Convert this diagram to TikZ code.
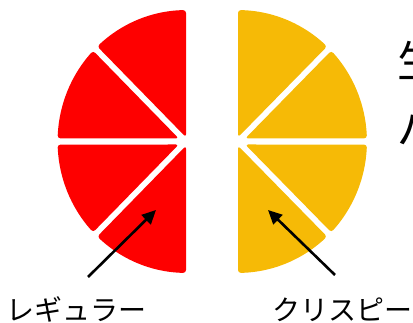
\documentclass[tikz,border=0pt]{standalone}
\usepackage{fontspec}
\newfontfamily\jp{Noto Sans CJK JP}
\usetikzlibrary{arrows.meta}
\definecolor{pizzared}{HTML}{FE0000}
\definecolor{pizzaorange}{HTML}{F6BA06}
\tikzset{
  slice/.style={rounded corners=3pt},
  pointer/.style={line width=2.6pt,-{Triangle[length=14pt,width=13pt]}},
  label/.style={font=\jp\fontsize{28}{30}\selectfont,anchor=base west,inner sep=0pt},
  title/.style={font=\jp\fontsize{44}{50}\selectfont,anchor=base west,inner sep=0pt}
}
\begin{document}
\begin{tikzpicture}[x=1pt,y=1pt]
\useasboundingbox (0,0) rectangle (413,323);
\clip (0,0) rectangle (413,323);
% left (red) half: centre (186,181.5)
\foreach \a/\b/\px/\py in {90/133.68/0/4.24, 136.32/178.66/-7.24/3, 181.34/223.68/-7.24/-3, 226.32/270/0/-4.24}{
  \fill[pizzared,slice] ({186+\px},{181.5+\py}) -- plot[domain=\a:\b,samples=12] ({186+128.5*cos(\x)},{181.5+131.5*sin(\x)}) -- cycle;
}
% right (orange) half: centre (238,181.5)
\foreach \a/\b/\px/\py in {90/46.32/0/4.24, 43.68/1.34/7.24/3, -1.34/-43.68/7.24/-3, -46.32/-90/0/-4.24}{
  \fill[pizzaorange,slice] ({238+\px},{181.5+\py}) -- plot[domain=\a:\b,samples=12] ({238+129*cos(\x)},{181.5+131.5*sin(\x)}) -- cycle;
}
% labels
\node[label] (reg) at (6,2) {レギュラー};
\node[label] (cri) at (272,2) {クリスピー};
\node[title] (t1) at (397,245) {生地};
\node[title] (t2) at (397,178) {パン};
% arrows
\coordinate (regtail) at (88,46);
\coordinate (regtip) at (156,113);
\coordinate (critail) at (335,48);
\coordinate (critip) at (268,113);
\draw[pointer] (regtail) -- (regtip);
\draw[pointer] (critail) -- (critip);
\end{tikzpicture}
\end{document}
